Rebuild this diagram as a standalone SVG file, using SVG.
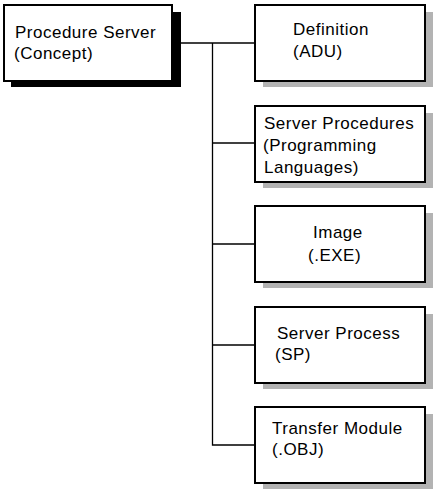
<svg xmlns="http://www.w3.org/2000/svg" width="435" height="491" viewBox="0 0 435 491">
<style>
.bx{fill:#fff;stroke:#000;stroke-width:2}
.sh{fill:#b3b3b3}
.shb{fill:#000}
text{font-family:"Liberation Sans",Arial,sans-serif;font-size:17px;letter-spacing:0.5px;fill:#000}
.ln{stroke:#000;stroke-width:1.3;fill:none}
</style>
<rect width="435" height="491" fill="#fff"/>
<g id="connectors">
<polyline class="ln" points="173,43 254,43"/>
<polyline class="ln" points="212.5,43 212.5,445 254,445"/>
<line class="ln" x1="212.5" y1="143" x2="254" y2="143"/>
<line class="ln" x1="212.5" y1="244" x2="254" y2="244"/>
<line class="ln" x1="212.5" y1="345" x2="254" y2="345"/>
</g>
<g id="concept">
<rect class="shb" x="11" y="12" width="170" height="75"/>
<rect class="bx" x="4" y="5" width="168" height="76"/>
<text x="15" y="37.5">Procedure Server</text>
<text x="14" y="59">(Concept)</text>
</g>
<g id="definition">
<rect class="sh" x="263" y="12" width="170" height="75"/>
<rect class="bx" x="255" y="5" width="170" height="76"/>
<text x="293" y="35">Definition</text>
<text x="293" y="57">(ADU)</text>
</g>
<g id="server-procedures">
<rect class="sh" x="263" y="113" width="170" height="75"/>
<rect class="bx" x="255" y="106" width="170" height="76"/>
<text x="264" y="129">Server Procedures</text>
<text x="263" y="151">(Programming</text>
<text x="264" y="173">Languages)</text>
</g>
<g id="image">
<rect class="sh" x="263" y="213" width="170" height="75"/>
<rect class="bx" x="255" y="206" width="170" height="76"/>
<text x="313" y="238">Image</text>
<text x="308" y="261">(.EXE)</text>
</g>
<g id="server-process">
<rect class="sh" x="263" y="314" width="170" height="75"/>
<rect class="bx" x="255" y="307" width="170" height="76"/>
<text x="277" y="339">Server Process</text>
<text x="275" y="360">(SP)</text>
</g>
<g id="transfer-module">
<rect class="sh" x="263" y="414" width="170" height="75"/>
<rect class="bx" x="255" y="407" width="170" height="76"/>
<text x="272" y="434">Transfer Module</text>
<text x="272" y="455">(.OBJ)</text>
</g>
</svg>
